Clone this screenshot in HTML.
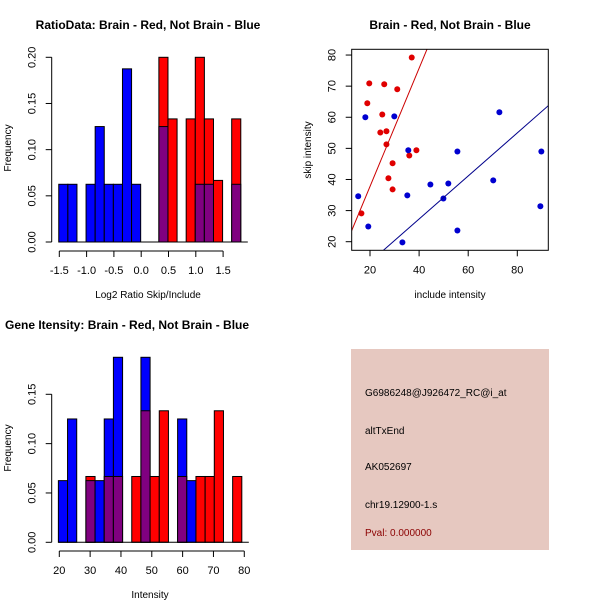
<!DOCTYPE html>
<html><head><meta charset="utf-8">
<style>
body{margin:0;background:#fff;}
svg{display:block;font-family:"Liberation Sans",sans-serif;}
</style></head>
<body>
<svg id="c" width="600" height="600" viewBox="0 0 600 600">
<rect width="600" height="600" fill="#fff"/>
<text x="148" y="29" font-size="12" font-weight="bold" text-anchor="middle">RatioData: Brain - Red, Not Brain - Blue</text>
<text x="450" y="29" font-size="12" font-weight="bold" text-anchor="middle">Brain - Red, Not Brain - Blue</text>
<text x="5" y="329" font-size="12" font-weight="bold">Gene Itensity: Brain - Red, Not Brain - Blue</text>
<text x="148" y="298" font-size="10" text-anchor="middle">Log2 Ratio Skip/Include</text>
<text x="11" y="148" font-size="10" text-anchor="middle" transform="rotate(-90 11 148)">Frequency</text>
<text x="450" y="298" font-size="10" text-anchor="middle">include intensity</text>
<text x="311" y="150" font-size="10" text-anchor="middle" transform="rotate(-90 311 150)">skip intensity</text>
<text x="150" y="598" font-size="10" text-anchor="middle">Intensity</text>
<text x="11" y="448" font-size="10" text-anchor="middle" transform="rotate(-90 11 448)">Frequency</text>
<g>
<rect x="351" y="349" width="198" height="201" fill="#e6c8c0"/>
<text x="365" y="396" font-size="10">G6986248@J926472_RC@i_at</text>
<text x="365" y="434" font-size="10">altTxEnd</text>
<text x="365" y="470" font-size="10">AK052697</text>
<text x="365" y="508" font-size="10">chr19.12900-1.s</text>
<text x="365" y="536" font-size="10" fill="#8b0000">Pval: 0.000000</text>
</g>
<g id="g1"></g><g id="g2"></g><g id="g3"></g>
</svg>
<script>
// Ratio histogram data (bin index -> frequency)
const ratioBlue = [0.0625,0.0625,0,0.0625,0.125,0.0625,0.0625,0.1875,0.0625,0,0,0.125,0,0,0,0.0625,0.0625,0,0,0.0625];
const ratioRed  = [0,0,0,0,0,0,0,0,0,0,0,0.2,0.1333,0,0.1333,0.2,0.1333,0.0667,0,0.1333];
const ratioXTicks = [-1.5,-1.0,-0.5,0.0,0.5,1.0,1.5];
const ratioYTicks = [0,0.05,0.10,0.15,0.20];
// Intensity histogram
const intBlue = [0.0625,0.125,0,0.0625,0.0625,0.125,0.1875,0,0,0.1875,0,0,0,0.125,0.0625,0,0,0,0,0];
const intRed  = [0,0,0,0.0667,0,0.0667,0.0667,0,0.0667,0.1333,0.0667,0.1333,0,0.0667,0,0.0667,0.0667,0.1333,0,0.0667];
const intXTicks = [20,30,40,50,60,70,80];
const intYTicks = [0,0.05,0.10,0.15];
// Scatter
const redX = [19.7,25.8,31.1,37,18.9,25,24.2,26.7,26.7,29.2,38.9,36,27.5,29.2,16.5];
const redY = [70.9,70.6,69.0,79.2,64.5,60.9,55.1,55.5,51.3,45.2,49.4,47.7,40.4,36.8,29.1];
const blueX = [18.1,29.9,35.6,55.6,72.7,89.8,15.2,35.2,44.6,51.9,49.9,70.2,19.3,33.2,55.6,89.4];
const blueY = [60,60.3,49.4,49,61.6,49,34.6,34.9,38.4,38.7,33.9,39.7,24.9,19.8,23.6,31.4];
const redFit = [-0.25,1.9];
const blueFit = [-0.38,0.692];
const scXTicks = [20,40,60,80];
const scYTicks = [20,30,40,50,60,70,80];

const NS="http://www.w3.org/2000/svg";
function mk(p,t,a){const e=document.createElementNS(NS,t);for(const k in a)e.setAttribute(k,a[k]);p.appendChild(e);return e;}

function hist(g,blue,red,binStart,binW,xs,ys,xTicks,yTicks,fmtX,yAxisX,xAxisY,name){
  const X=v=>xs.p0+(v-xs.v0)*xs.k, Y=v=>ys.p0-(v)*ys.k;
  for(let i=0;i<blue.length;i++){
    const x0=X(binStart+i*binW), x1=X(binStart+(i+1)*binW);
    const b=blue[i], r=red[i];
    const mx=Math.max(b,r), mn=Math.min(b,r);
    if(mx>0){
      const e=mk(g,'rect',{x:x0,y:Y(mx),width:x1-x0,height:Y(0)-Y(mx),fill:r>=b?'#ff0000':'#0000ff',stroke:'#000','stroke-width':1});
      
      
    }
    if(mn>0){
      const e=mk(g,'rect',{x:x0,y:Y(mn),width:x1-x0,height:Y(0)-Y(mn),fill:'#800080',stroke:'#000','stroke-width':1});
      
      
    }
  }
  mk(g,'line',{x1:X(xTicks[0]),x2:X(xTicks[xTicks.length-1]),y1:xAxisY,y2:xAxisY,stroke:'#000'});
  xTicks.forEach(t=>{mk(g,'line',{x1:X(t),x2:X(t),y1:xAxisY,y2:xAxisY+6,stroke:'#000'});
    const e=mk(g,'text',{x:X(t),y:xAxisY+23,'font-size':11,'text-anchor':'middle'});e.textContent=fmtX(t);
    });
  mk(g,'line',{x1:yAxisX,x2:yAxisX,y1:Y(yTicks[0]),y2:Y(yTicks[yTicks.length-1]),stroke:'#000'});
  yTicks.forEach(t=>{mk(g,'line',{x1:yAxisX,x2:yAxisX-6,y1:Y(t),y2:Y(t),stroke:'#000'});
    const e=mk(g,'text',{x:yAxisX-16,y:Y(t),'font-size':11,'text-anchor':'middle',transform:`rotate(-90 ${yAxisX-16} ${Y(t)})`});e.textContent=t.toFixed(2);
    });
  mk(g,'line',{x1:X(binStart),x2:X(binStart+blue.length*binW)+7,y1:Y(0),y2:Y(0),stroke:'#000'});
}
hist(document.getElementById('g1'),ratioBlue,ratioRed,-1.51,0.1667,{p0:59.3,v0:-1.5,k:54.6},{p0:242,k:923.5},ratioXTicks,ratioYTicks,t=>t.toFixed(1),51.7,251,'ratio');
hist(document.getElementById('g3'),intBlue,intRed,19.7,2.975,{p0:59.3,v0:20,k:3.083},{p0:542.3,k:986.7},intXTicks,intYTicks,t=>String(t),51.7,551,'intensity');

// scatter
(function(){
  const g=document.getElementById('g2');
  const L=351.7,R=548.3,T=49.3,B=250.3;
  const X=v=>370+(v-20)*2.455, Y=v=>241.7-(v-20)*3.111;
  const cp=mk(g,'clipPath',{id:'cl'});mk(cp,'rect',{x:L,y:T,width:R-L,height:B-T});
  const fit=(f,col,nm)=>{const x0=0,x1=100;const e=mk(g,'line',{x1:X(x0),y1:Y(f[0]+f[1]*x0),x2:X(x1),y2:Y(f[0]+f[1]*x1),stroke:col,'stroke-width':1,'clip-path':'url(#cl)'});
    };
  redX.forEach((x,i)=>{const e=mk(g,'circle',{cx:X(x),cy:Y(redY[i]),r:3,fill:'#e00000'});
    });
  blueX.forEach((x,i)=>{const e=mk(g,'circle',{cx:X(x),cy:Y(blueY[i]),r:3,fill:'#0000d0'});
    });
  fit(redFit,'#cc0000','red-fit-line');fit(blueFit,'#00008b','blue-fit-line');
  const box=mk(g,'rect',{x:L,y:T,width:R-L,height:B-T,fill:'none',stroke:'#000'});
  
  scXTicks.forEach(t=>{mk(g,'line',{x1:X(t),x2:X(t),y1:B,y2:B+6,stroke:'#000'});
    const e=mk(g,'text',{x:X(t),y:B+23,'font-size':11,'text-anchor':'middle'});e.textContent=t;
    });
  scYTicks.forEach(t=>{mk(g,'line',{x1:L,x2:L-6,y1:Y(t),y2:Y(t),stroke:'#000'});
    const e=mk(g,'text',{x:L-16,y:Y(t),'font-size':11,'text-anchor':'middle',transform:`rotate(-90 ${L-16} ${Y(t)})`});e.textContent=t;
    });
})();
</script>
</body></html>
